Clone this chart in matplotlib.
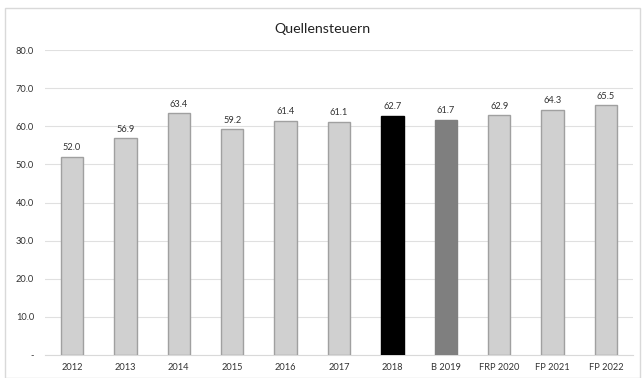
import matplotlib.pyplot as plt
from matplotlib.patches import Rectangle

plt.rcParams['font.family'] = ['Lato', 'DejaVu Sans']

jahre = ["2012", "2013", "2014", "2015", "2016", "2017", "2018",
         "B 2019", "FRP 2020", "FP 2021", "FP 2022"]
werte = [52.0, 56.9, 63.4, 59.2, 61.4, 61.1, 62.7, 61.7, 62.9, 64.3, 65.5]
farben = ["#d0d0d0"] * 6 + ["#000000", "#7f7f7f"] + ["#d0d0d0"] * 3
kanten = ["#a0a0a0"] * 6 + ["#000000", "#7f7f7f"] + ["#a0a0a0"] * 3

fig = plt.figure(figsize=(6.44, 3.78), dpi=100)
# outer frame around the chart
fig.patches.append(Rectangle((5 / 644, 0), 635 / 644, 1 - 8 / 378,
                             transform=fig.transFigure, fill=False,
                             edgecolor="#d9d9d9", linewidth=1))

ax = fig.add_axes([0.0703, 0.0608, 0.9122, 0.8069])
x = range(len(jahre))
ax.bar(x, werte, width=0.42, color=farben, edgecolor=kanten, linewidth=1.0, zorder=3)

for xi, v in zip(x, werte):
    ax.text(xi, v + 1.2, f"{v:.1f}", ha="center", va="bottom", fontsize=6.7, color="#333333")

ax.set_ylim(0, 80)
ax.set_xlim(-0.5, len(jahre) - 0.5)
ax.set_yticks(range(0, 81, 10))
ax.set_yticklabels(["-"] + [f"{t:.1f}" for t in range(10, 81, 10)])
ax.set_xticks(list(x))
ax.set_xticklabels(jahre)
ax.tick_params(axis="both", length=0, labelsize=6.7, colors="#333333")
ax.tick_params(axis="y", pad=8)
ax.tick_params(axis="x", pad=6)
ax.grid(axis="y", color="#e0e0e0", linewidth=0.8, zorder=0)
for s in ["top", "right", "left"]:
    ax.spines[s].set_visible(False)
ax.spines["bottom"].set_color("#d9d9d9")

fig.text(0.5, 1 - 29 / 378, "Quellensteuern", ha="center", va="center", fontsize=10.3, color="#222222")

fig.savefig("out.png", dpi=100)
